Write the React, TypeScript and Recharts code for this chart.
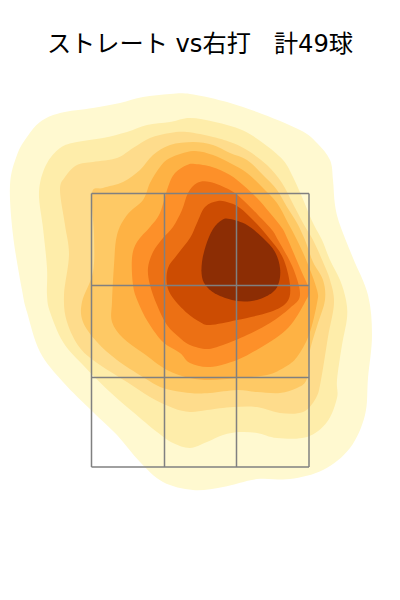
import { Scatter, ScatterChart, XAxis, YAxis } from "recharts"

type Pt = { x: number; y: number }
const pts = (list: number[][]): Pt[] => list.map(([x, y]) => ({ x, y }))

const title = "ストレート vs右打   計49球"

// strike zone lines
const zoneX = [91.5, 164.5, 236.5, 309]
const zoneY = [193.5, 285.5, 377.5, 467]

const colors = ["#fff9d0", "#feedaa", "#fedc8c", "#fec965", "#feb244", "#fd9029", "#ec7014", "#cc4c02", "#8c2d04"]

// density contours, outer to inner
const level1 = pts([[190, 94], [170, 94], [143, 97], [120, 103], [93, 108], [60, 113], [40, 122], [27, 137], [17, 155], [10, 185], [13, 235], [22, 290], [27, 312], [40, 352], [63, 382], [93, 412], [117, 435], [140, 462], [163, 482], [193, 490], [223, 487], [257, 479], [290, 479], [323, 470], [350, 448], [365, 415], [368, 378], [372, 335], [368, 295], [353, 258], [340, 225], [335, 205], [333, 180], [330, 160], [317, 143], [300, 130], [257, 112], [223, 101]])
const level2 = pts([[190, 118], [170, 122], [147, 125], [127, 132], [103, 138], [77, 142], [60, 148], [46, 165], [39, 192], [43, 228], [47, 268], [47, 295], [50, 312], [63, 342], [83, 365], [110, 392], [133, 412], [157, 432], [173, 443], [190, 448], [207, 442], [223, 435], [240, 432], [257, 433], [277, 438], [307, 437], [327, 422], [337, 398], [337, 380], [342, 345], [347, 318], [346, 300], [340, 280], [330, 260], [322, 240], [313, 223], [302, 197], [293, 177], [283, 160], [263, 143], [242, 130], [215, 122]])
const level3 = pts([[187, 132], [170, 133], [150, 138], [133, 148], [117, 158], [93, 162], [77, 165], [65, 177], [60, 190], [65, 225], [69, 255], [64, 295], [67, 322], [80, 348], [100, 365], [127, 382], [150, 397], [173, 408], [190, 412], [207, 410], [233, 407], [257, 407], [280, 413], [303, 412], [316, 398], [321, 380], [328, 337], [334, 303], [330, 280], [323, 262], [313, 240], [303, 223], [292, 202], [282, 183], [267, 165], [247, 150], [230, 142], [213, 137]])
const level4 = pts([[193, 142], [170, 145], [153, 155], [140, 170], [123, 182], [103, 188], [92, 193], [94, 235], [93, 272], [82, 302], [83, 322], [97, 342], [117, 360], [143, 377], [163, 388], [190, 393], [210, 393], [237, 390], [257, 392], [280, 393], [297, 388], [306, 381], [309, 365], [310, 350], [318, 323], [325, 300], [323, 280], [313, 262], [305, 240], [297, 223], [287, 207], [277, 190], [263, 175], [247, 160], [230, 153], [213, 145]])
const level5 = pts([[193, 151], [170, 158], [160, 167], [150, 183], [143, 200], [127, 215], [117, 235], [114, 265], [112, 302], [112, 322], [123, 338], [143, 353], [167, 370], [190, 378], [210, 380], [237, 378], [267, 375], [285, 367], [297, 357], [309, 335], [317, 303], [317, 290], [307, 262], [297, 240], [288, 223], [277, 203], [263, 188], [247, 173], [230, 163], [213, 155]])
const level6 = pts([[195, 164], [187, 165], [175, 173], [168, 187], [160, 213], [150, 227], [137, 242], [132, 258], [133, 285], [138, 302], [148, 322], [163, 342], [180, 353], [190, 363], [210, 367], [237, 360], [260, 348], [280, 335], [293, 322], [305, 302], [309, 290], [300, 268], [288, 240], [282, 228], [270, 213], [257, 198], [243, 185], [230, 175], [212, 167]])
const level7 = pts([[210, 182], [197, 183], [188, 193], [182, 210], [173, 227], [163, 238], [153, 252], [148, 268], [150, 285], [157, 305], [167, 325], [180, 338], [190, 345], [207, 349], [223, 345], [247, 335], [270, 323], [290, 308], [300, 295], [293, 268], [278, 240], [272, 230], [258, 215], [243, 200], [230, 190]])
const level8 = pts([[218, 201], [205, 207], [197, 223], [190, 238], [177, 255], [168, 268], [167, 285], [173, 298], [187, 313], [200, 322], [210, 325], [237, 320], [270, 312], [287, 302], [290, 285], [283, 258], [269, 238], [253, 220], [240, 208], [230, 203]])
const level9 = pts([[230, 219], [222, 220], [213, 229], [206, 245], [202, 262], [202, 277], [207, 287], [218, 295], [237, 301], [257, 300], [273, 292], [279, 282], [280, 268], [275, 252], [263, 238], [247, 225]])

const levels = [level1, level2, level3, level4, level5, level6, level7, level8, level9]

const zoneLines = [
  ...zoneX.map((x) => [{ x, y: zoneY[0] }, { x, y: zoneY[3] }]),
  ...zoneY.map((y) => [{ x: zoneX[0], y }, { x: zoneX[3], y }]),
]

// recharts has no closed catmull-rom curve by name, so pass a small one
const closedSpline = (context: any) => {
  let p: number[][] = []
  return {
    areaStart() {},
    areaEnd() {},
    lineStart() {
      p = []
    },
    point(x: number, y: number) {
      p.push([x, y])
    },
    lineEnd() {
      const n = p.length
      context.moveTo(p[0][0], p[0][1])
      for (let i = 0; i < n; i++) {
        const a = p[(i + n - 1) % n]
        const b = p[i]
        const c = p[(i + 1) % n]
        const d = p[(i + 2) % n]
        context.bezierCurveTo(
          b[0] + (c[0] - a[0]) / 6,
          b[1] + (c[1] - a[1]) / 6,
          c[0] - (d[0] - b[0]) / 6,
          c[1] - (d[1] - b[1]) / 6,
          c[0],
          c[1],
        )
      }
      context.closePath()
    },
  }
}

export default function App() {
  return (
    <div style={{ position: "absolute", left: 0, top: 0, width: 400, height: 600 }}>
      <div
        style={{
          position: "absolute",
          top: 27,
          width: 400,
          textAlign: "center",
          whiteSpace: "pre",
          fontFamily: "'DejaVu Sans', 'Noto Sans CJK JP', sans-serif",
          fontSize: 24.2,
          lineHeight: "34px",
          color: "#000",
          zIndex: 1,
        }}
      >
        {title}
      </div>
      <ScatterChart width={400} height={600} margin={{ top: 0, right: 0, bottom: 0, left: 0 }}>
        <XAxis type="number" dataKey="x" domain={[0, 400]} hide />
        <YAxis type="number" dataKey="y" domain={[0, 600]} reversed hide />
        {levels.map((level, i) => (
          <Scatter
            key={i}
            data={level}
            shape={() => null}
            line={{ fill: colors[i], stroke: "none" }}
            lineJointType={closedSpline as any}
            isAnimationActive={false}
          />
        ))}
        {zoneLines.map((line, i) => (
          <Scatter
            key={`zone-${i}`}
            data={line}
            shape={() => null}
            line={{ stroke: "#808080", strokeWidth: 1.5 }}
            isAnimationActive={false}
          />
        ))}
      </ScatterChart>
    </div>
  )
}
